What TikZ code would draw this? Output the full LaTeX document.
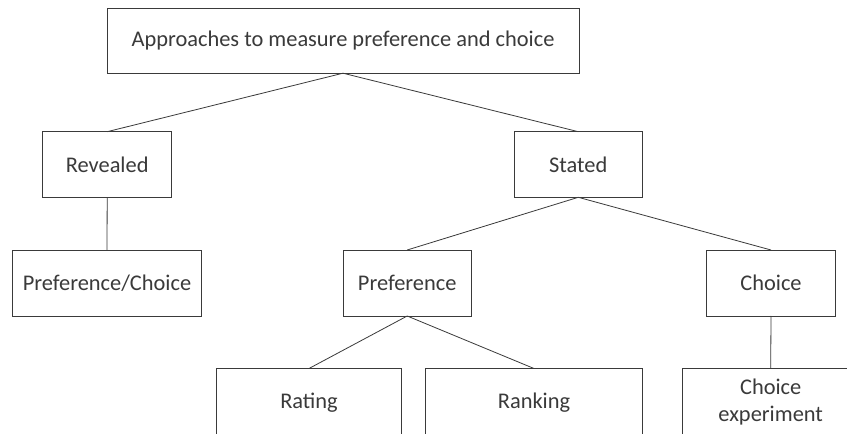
\documentclass[tikz,border=0pt]{standalone}
\usepackage{fontspec}
\setmainfont{Carlito}
\definecolor{edge}{HTML}{3A3A3A}
\definecolor{txt}{HTML}{3A3A3A}
\tikzset{
  box/.style={draw=edge, line width=0.8bp, rectangle, inner sep=0pt, outer sep=0pt,
    text=txt, font=\fontsize{22.4bp}{27bp}\selectfont, align=center},
  link/.style={draw=edge, line width=0.8bp}
}
\begin{document}
\begin{tikzpicture}[x=1bp, y=-1bp]
  \clip (0,0) rectangle (847,434);
  \fill[white] (0,0) rectangle (847,434);
  % top level
  \node[box, minimum width=472bp, minimum height=65bp] (top) at (343,40.7) {Approaches to measure preference and choice};
  % second level
  \node[box, minimum width=129bp, minimum height=65.6bp] (rev) at (107.2,164.5) {Revealed};
  \node[box, minimum width=128bp, minimum height=65.6bp] (stated) at (578.3,164.5) {Stated};
  % third level
  \node[box, minimum width=189.4bp, minimum height=66bp] (pc) at (107,283) {Preference/Choice};
  \node[box, minimum width=127.7bp, minimum height=66bp] (pref) at (407.2,283) {Preference};
  \node[box, minimum width=128.6bp, minimum height=66bp] (choice) at (771,283) {Choice};
  % fourth level
  \node[box, minimum width=184.6bp, minimum height=68bp] (rating) at (309,402.5) {Rating};
  \node[box, minimum width=216.6bp, minimum height=68bp] (ranking) at (534,402.5) {Ranking};
  \node[box, minimum width=176bp, minimum height=68bp] (cexp) at (770.7,402.5) {Choice\\experiment};
  % connectors
  \draw[link] (top.south) -- (rev.north);
  \draw[link] (top.south) -- (stated.north);
  \draw[link] (rev.south) -- (pc.north);
  \draw[link] (stated.south) -- (pref.north);
  \draw[link] (stated.south) -- (choice.north);
  \draw[link] (pref.south) -- (rating.north);
  \draw[link] (pref.south) -- (ranking.north);
  \draw[link] (choice.south) -- (cexp.north);
\end{tikzpicture}
\end{document}
